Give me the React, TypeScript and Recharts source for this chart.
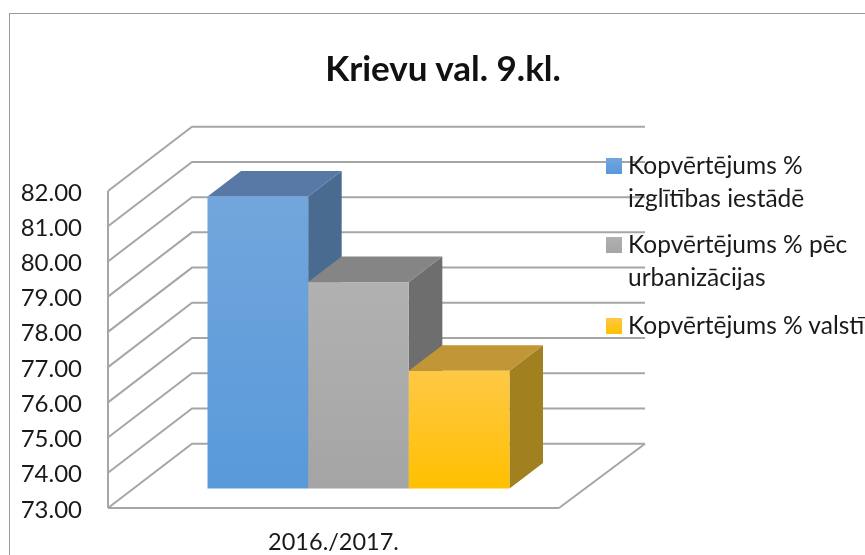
import { BarChart, Bar, XAxis, YAxis, CartesianGrid, Legend } from 'recharts';

const categories = ['2016./2017.'];
const schoolValues = [81.29];
const urbanValues = [78.86];
const stateValues = [76.34];
const yTicks = [73, 74, 75, 76, 77, 78, 79, 80, 81, 82];

const chartData = categories.map((name, i) => ({
  name,
  school: schoolValues[i],
  urban: urbanValues[i],
  state: stateValues[i],
}));

const FONT = 'Lato, sans-serif';
const GRID = '#a6a6a6';

// fake 3D: bars sit part way into the floor, walls sit at the back of it
const BAR_SHIFT = { x: 25.5, y: -19.5 };
const BAR_DEPTH = { x: 33.5, y: -25.5 };
const WALL = { x: 84, y: -64.3 };

const box3d = (topColor: string, sideColor: string) => (props: any) => {
  const { x, y, width, height, fill } = props;
  const left = x + BAR_SHIFT.x;
  const right = left + width;
  const top = y + BAR_SHIFT.y;
  const bottom = top + height;
  const dx = BAR_DEPTH.x;
  const dy = BAR_DEPTH.y;
  return (
    <g>
      <polygon points={`${right},${top} ${right + dx},${top + dy} ${right + dx},${bottom + dy} ${right},${bottom}`} fill={sideColor} />
      <polygon points={`${left},${top} ${left + dx},${top + dy} ${right + dx},${top + dy} ${right},${top}`} fill={topColor} />
      <rect x={left} y={top} width={width} height={height} fill={fill} />
    </g>
  );
};

const wallLine = (props: any) => {
  const { x1, x2, y1, index } = props;
  const isFloor = y1 > 500;
  return (
    <g key={`wall-${index}`} fill="none" stroke={GRID} strokeWidth={2}>
      <polyline points={`${x1},${y1} ${x1 + WALL.x},${y1 + WALL.y} ${x2 + WALL.x + 2},${y1 + WALL.y}`} />
      {isFloor && <line x1={x2} y1={y1} x2={x2 + WALL.x + 2} y2={y1 + WALL.y} />}
    </g>
  );
};

const LegendBox = ({ payload }: any) => (
  <div style={{ fontFamily: FONT, fontSize: 24.5, lineHeight: '33px', color: '#1a1a1a', width: 267 }}>
    {(payload || []).map((entry: any, i: number) => (
      <div key={entry.value} style={{ display: 'flex', alignItems: 'flex-start', marginBottom: i === 0 ? 13 : 15 }}>
        <svg width={16} height={16} style={{ flex: 'none', marginTop: 8, marginRight: 6 }}>
          <rect width={16} height={16} fill={entry.color} />
        </svg>
        <span style={{ display: 'block', width: 245, marginTop: -2, marginBottom: 2 }}>{entry.value}</span>
      </div>
    ))}
  </div>
);

export default function App() {
  return (
    <div style={{ position: 'absolute', left: 0, top: 0, width: 865, height: 555, background: '#fff', overflow: 'hidden', filter: 'blur(0.4px)' }}>
      <div style={{ position: 'absolute', left: 9, top: 13, width: 900, height: 600, border: '1px solid #9a9a9a' }} />
      <div style={{ position: 'absolute', left: 0, top: 0 }}>
        <BarChart
          width={865}
          height={555}
          data={chartData}
          barSize={100.67}
          barGap={0}
          margin={{ top: 191, right: 306, bottom: 0, left: 0 }}
        >
          <defs>
            <linearGradient id="schoolFill" x1="0" y1="0" x2="0" y2="1">
              <stop offset="0%" stopColor="#72a6dc" />
              <stop offset="100%" stopColor="#5899da" />
            </linearGradient>
            <linearGradient id="urbanFill" x1="0" y1="0" x2="0" y2="1">
              <stop offset="0%" stopColor="#b1b1b1" />
              <stop offset="100%" stopColor="#a5a5a5" />
            </linearGradient>
            <linearGradient id="stateFill" x1="0" y1="0" x2="0" y2="1">
              <stop offset="0%" stopColor="#ffc845" />
              <stop offset="100%" stopColor="#ffc000" />
            </linearGradient>
          </defs>
          <text x={443} y={81} textAnchor="middle" fontFamily={FONT} fontWeight={700} fontSize={35} fill="#111">
            Krievu val. 9.kl.
          </text>
          <CartesianGrid vertical={false} horizontal={wallLine} />
          <XAxis
            dataKey="name"
            height={47}
            tickLine={false}
            tickMargin={19}
            axisLine={{ stroke: GRID, strokeWidth: 2 }}
            tick={{ fontFamily: FONT, fontSize: 23.5, fill: '#1a1a1a' }}
          />
          <YAxis
            width={108}
            domain={[73, 82]}
            ticks={yTicks}
            interval={0}
            tickLine={false}
            tickMargin={20}
            tickFormatter={(v: number) => v.toFixed(2)}
            axisLine={{ stroke: GRID, strokeWidth: 2 }}
            tick={{ fontFamily: FONT, fontSize: 24, fill: '#1a1a1a', dy: 1 }}
          />
          <Legend
            layout="horizontal"
            align="center"
            verticalAlign="middle"
            content={<LegendBox />}
            wrapperStyle={{ left: 606, top: 150, width: 267, margin: 0 }}
          />
          <Bar dataKey="school" name="Kopvērtējums % izglītības iestādē" fill="url(#schoolFill)" isAnimationActive={false} shape={box3d('#5879a5', '#4a6b90')} />
          <Bar dataKey="urban" name="Kopvērtējums % pēc urbanizācijas" fill="url(#urbanFill)" isAnimationActive={false} shape={box3d('#858585', '#6e6e6e')} />
          <Bar dataKey="state" name="Kopvērtējums % valstī" fill="url(#stateFill)" isAnimationActive={false} shape={box3d('#c09636', '#a1801f')} />
        </BarChart>
      </div>
    </div>
  );
}
